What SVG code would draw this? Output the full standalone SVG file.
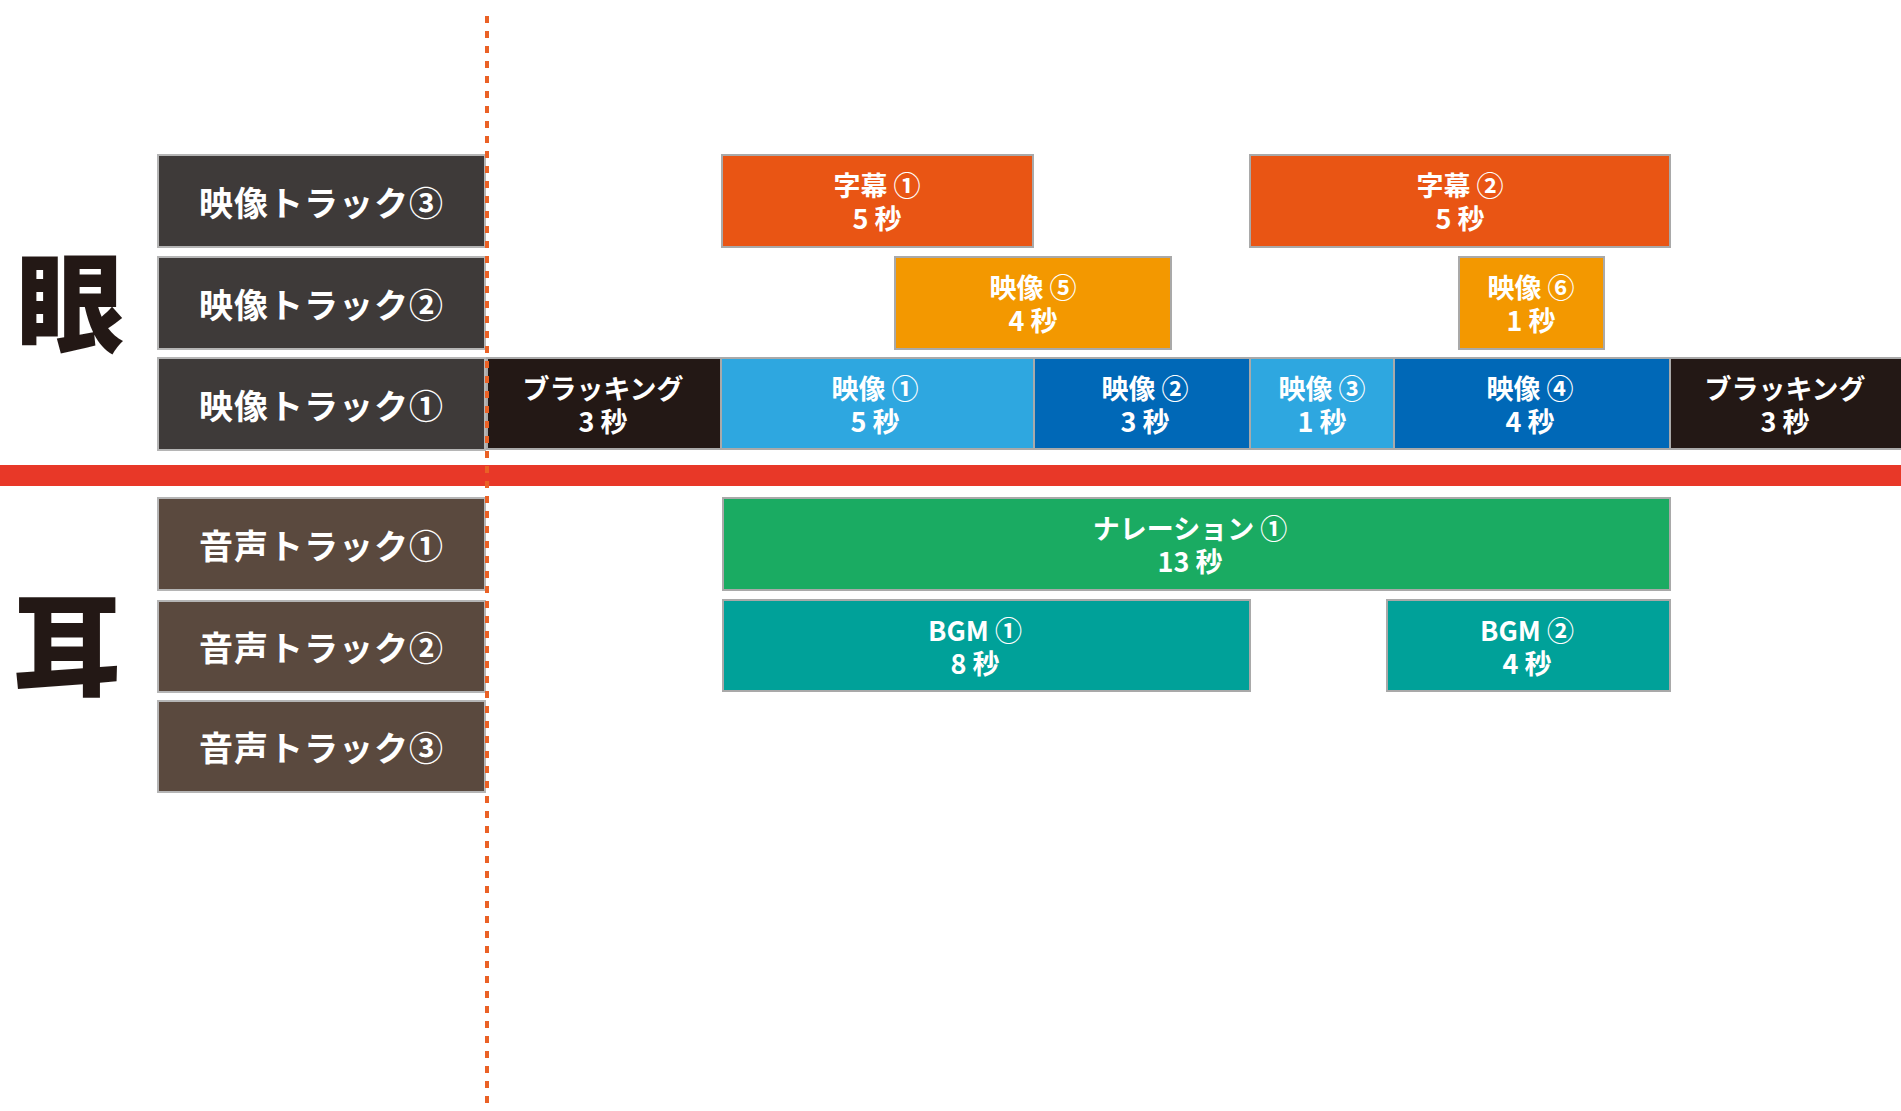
<svg xmlns="http://www.w3.org/2000/svg" width="1901" height="1111" viewBox="0 0 1901 1111">
<style>
.lbl{stroke:#b5b5b5;stroke-width:2}
.vt{fill:#3e3a39}
.at{fill:#5a493e}
.blk{stroke:#a9a9a9;stroke-width:2}
.t{font-family:"Noto Sans CJK JP","Noto Sans",sans-serif;font-weight:700;fill:#fff;text-anchor:middle;dominant-baseline:central}
.tl{font-size:34px;letter-spacing:1px}
.tb{font-size:27px}
.big{font-family:"Noto Sans CJK JP",sans-serif;font-weight:900;font-size:108px;fill:#231815;text-anchor:middle;dominant-baseline:central}
</style>
<rect width="1901" height="1111" fill="#ffffff"/>
<g id="label-eye"><text class="big" x="70" y="297">眼</text></g>
<g id="label-ear"><text class="big" x="67" y="640">耳</text></g>
<g id="divider"><rect x="0" y="465" width="1901" height="21" fill="#e83828"/></g>
<g id="track-v3"><rect class="lbl vt" x="158" y="155" width="327" height="92"/><text class="t tl" x="321.5" y="201">映像トラック③</text></g>
<g id="track-v2"><rect class="lbl vt" x="158" y="257" width="327" height="92"/><text class="t tl" x="321.5" y="303">映像トラック②</text></g>
<g id="track-v1"><rect class="lbl vt" x="158" y="358" width="327" height="92"/><text class="t tl" x="321.5" y="404">映像トラック①</text></g>
<g id="track-a1"><rect class="lbl at" x="158" y="498" width="327" height="92"/><text class="t tl" x="321.5" y="544">音声トラック①</text></g>
<g id="track-a2"><rect class="lbl at" x="158" y="601" width="327" height="91"/><text class="t tl" x="321.5" y="646">音声トラック②</text></g>
<g id="track-a3"><rect class="lbl at" x="158" y="701" width="327" height="91"/><text class="t tl" x="321.5" y="746">音声トラック③</text></g>

<g id="sub1"><rect class="blk" x="722" y="155" width="311" height="92" fill="#e95514"/><text class="t tb"><tspan x="877" y="184">字幕 ①</tspan><tspan x="877" y="217">5 秒</tspan></text></g>
<g id="sub2"><rect class="blk" x="1250" y="155" width="420" height="92" fill="#e95514"/><text class="t tb"><tspan x="1460" y="184">字幕 ②</tspan><tspan x="1460" y="217">5 秒</tspan></text></g>
<g id="vid5"><rect class="blk" x="895" y="257" width="276" height="92" fill="#f39800"/><text class="t tb"><tspan x="1033" y="286">映像 ⑤</tspan><tspan x="1033" y="319">4 秒</tspan></text></g>
<g id="vid6"><rect class="blk" x="1459" y="257" width="145" height="92" fill="#f39800"/><text class="t tb"><tspan x="1531" y="286">映像 ⑥</tspan><tspan x="1531" y="319">1 秒</tspan></text></g>

<g id="black1"><rect class="blk" x="487" y="358" width="234" height="91" fill="#231815"/><text class="t tb"><tspan x="603" y="387">ブラッキング</tspan><tspan x="603" y="420">3 秒</tspan></text></g>
<g id="vid1"><rect class="blk" x="721" y="358" width="313" height="91" fill="#2ea7e0"/><text class="t tb"><tspan x="875" y="387">映像 ①</tspan><tspan x="875" y="420">5 秒</tspan></text></g>
<g id="vid2"><rect class="blk" x="1034" y="358" width="216" height="91" fill="#0068b7"/><text class="t tb"><tspan x="1145" y="387">映像 ②</tspan><tspan x="1145" y="420">3 秒</tspan></text></g>
<g id="vid3"><rect class="blk" x="1250" y="358" width="144" height="91" fill="#2ea7e0"/><text class="t tb"><tspan x="1322" y="387">映像 ③</tspan><tspan x="1322" y="420">1 秒</tspan></text></g>
<g id="vid4"><rect class="blk" x="1394" y="358" width="276" height="91" fill="#0068b7"/><text class="t tb"><tspan x="1530" y="387">映像 ④</tspan><tspan x="1530" y="420">4 秒</tspan></text></g>
<g id="black2"><rect class="blk" x="1670" y="358" width="240" height="91" fill="#231815"/><text class="t tb"><tspan x="1785" y="387">ブラッキング</tspan><tspan x="1785" y="420">3 秒</tspan></text></g>

<g id="narr1"><rect class="blk" x="723" y="498" width="947" height="92" fill="#1aab62"/><text class="t tb"><tspan x="1190" y="527">ナレーション ①</tspan><tspan x="1190" y="560">13 秒</tspan></text></g>
<g id="bgm1"><rect class="blk" x="723" y="600" width="527" height="91" fill="#00a199"/><text class="t tb"><tspan x="975" y="629">BGM ①</tspan><tspan x="975" y="662">8 秒</tspan></text></g>
<g id="bgm2"><rect class="blk" x="1387" y="600" width="283" height="91" fill="#00a199"/><text class="t tb"><tspan x="1527" y="629">BGM ②</tspan><tspan x="1527" y="662">4 秒</tspan></text></g>

<g id="connectors"><line x1="487" y1="16" x2="487" y2="1111" stroke="#ea6125" stroke-width="4" stroke-dasharray="7 8"/></g>
</svg>
